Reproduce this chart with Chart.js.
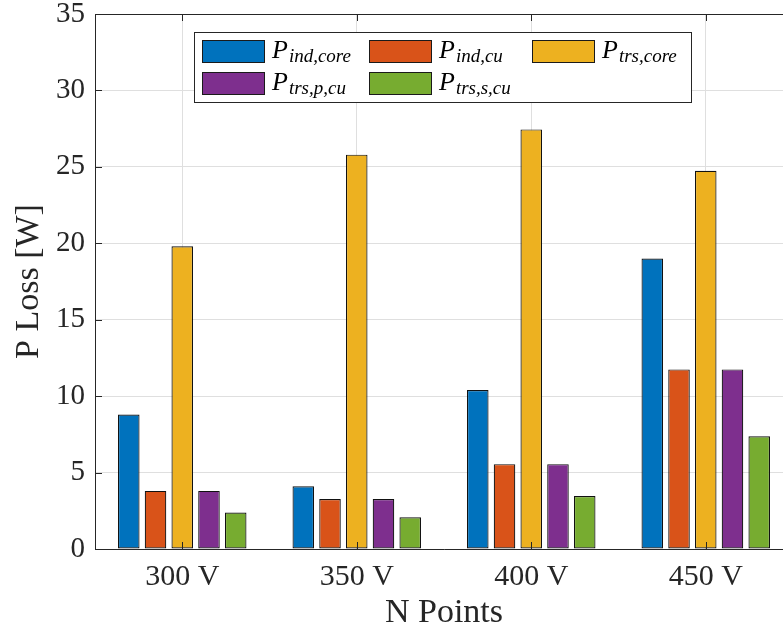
<!DOCTYPE html>
<html><head><meta charset="utf-8">
<script src="https://cdn.jsdelivr.net/npm/chart.js@4.4.0/dist/chart.umd.min.js"></script>
<style>
html,body{margin:0;padding:0;background:#fff;overflow:hidden;width:783px;height:635px}
#wrap{width:800px;height:635px;position:relative}
</style></head>
<body><div id="wrap"><canvas id="c" width="800" height="635"></canvas></div>
<script>
// ---- data ----
const categories = ['300 V', '350 V', '400 V', '450 V'];
const legendMain = 'P';
const seriesSubs = ['ind,core', 'ind,cu', 'trs,core', 'trs,p,cu', 'trs,s,cu'];
const pIndCore = [8.8, 4.1, 10.4, 19.0];
const pIndCu   = [3.8, 3.27, 5.55, 11.75];
const pTrsCore = [19.8, 25.8, 27.45, 24.75];
const pTrsPCu  = [3.8, 3.27, 5.55, 11.75];
const pTrsSCu  = [2.38, 2.07, 3.47, 7.38];
const yTickValues = [0, 5, 10, 15, 20, 25, 30, 35];
const xTitle = 'N Points';
const yTitle = 'P Loss [W]';

const colors = ['#0072BD', '#D95319', '#EDB120', '#7E2F8E', '#77AC30'];
const seriesValues = [pIndCore, pIndCu, pTrsCore, pTrsPCu, pTrsSCu];
const FONT = "'Liberation Serif', 'Times New Roman', serif";
const AXIS = '#262626';

const datasets = seriesValues.map((vals, i) => ({
  label: legendMain + '_' + seriesSubs[i],
  data: vals,
  backgroundColor: colors[i],
  borderColor: '#111',
  borderWidth: 1.2,
  borderSkipped: false,
  categoryPercentage: 0.766,
  barPercentage: 0.806
}));

const axesPlugin = {
  id: 'axesOnTop',
  afterDatasetsDraw(chart) {
    const ctx = chart.ctx, a = chart.chartArea;
    const xs = chart.scales.x, ys = chart.scales.y;
    ctx.save();
    ctx.strokeStyle = AXIS;
    ctx.lineWidth = 1;
    ctx.beginPath();
    ctx.moveTo(a.left + 0.5, a.top + 0.5); ctx.lineTo(a.left + 0.5, a.bottom + 0.5);
    ctx.lineTo(a.right, a.bottom + 0.5);
    ctx.moveTo(a.left, a.top + 0.5); ctx.lineTo(a.right, a.top + 0.5);
    ctx.lineTo(a.right - 0.5, a.bottom);
    xs.ticks.forEach((t, i) => {
      const x = Math.round(xs.getPixelForTick(i)) + 0.5;
      ctx.moveTo(x, a.bottom); ctx.lineTo(x, a.bottom - 7);
      ctx.moveTo(x, a.top); ctx.lineTo(x, a.top + 7);
    });
    ys.ticks.forEach((t, i) => {
      const y = Math.round(ys.getPixelForTick(i)) + 0.5;
      ctx.moveTo(a.left, y); ctx.lineTo(a.left + 7, y);
      ctx.moveTo(a.right, y); ctx.lineTo(a.right - 7, y);
    });
    ctx.stroke();
    ctx.restore();
  }
};

const legendPlugin = {
  id: 'mathLegend',
  afterDraw(chart) {
    const ctx = chart.ctx;
    const box = {x: 194.5, y: 32.5, w: 497, h: 70};
    const colX = [202, 369, 532];
    const rowY = [40, 72];
    ctx.save();
    ctx.fillStyle = '#fff';
    ctx.fillRect(box.x, box.y, box.w, box.h);
    ctx.strokeStyle = AXIS;
    ctx.lineWidth = 1;
    ctx.strokeRect(box.x, box.y, box.w, box.h);
    chart.data.datasets.forEach((ds, i) => {
      const cx = colX[i % 3], cy = rowY[Math.floor(i / 3)];
      ctx.fillStyle = ds.backgroundColor;
      ctx.fillRect(cx, cy, 63, 23);
      ctx.strokeStyle = '#1a1a1a';
      ctx.strokeRect(cx + 0.5, cy + 0.5, 62, 22);
      ctx.fillStyle = '#000';
      ctx.textBaseline = 'alphabetic';
      ctx.font = 'italic 26px ' + FONT;
      const tx = cx + 70, base = cy + 18;
      ctx.fillText(legendMain, tx, base);
      const pw = ctx.measureText(legendMain).width;
      ctx.font = 'italic 19px ' + FONT;
      ctx.fillText(seriesSubs[i], tx + pw + 1, base + 4);
    });
    ctx.restore();
  }
};

new Chart(document.getElementById('c'), {
  type: 'bar',
  data: { labels: categories, datasets },
  plugins: [axesPlugin, legendPlugin],
  options: {
    responsive: false,
    animation: false,
    layout: { padding: { top: 14, right: 7, left: 0, bottom: 0 } },
    plugins: { legend: { display: false }, tooltip: { enabled: false } },
    scales: {
      x: {
        offset: true,
        grid: { offset: false, color: '#dfdfdf', drawTicks: false, lineWidth: 1 },
        border: { display: false },
        ticks: { color: AXIS, font: { family: FONT, size: 30 }, padding: 10 },
        title: { display: true, text: xTitle, color: AXIS, font: { family: FONT, size: 34 }, padding: { top: 0, bottom: 2 } },
        afterFit(s) { s.height = 86; s.paddingLeft = 0; s.paddingRight = 0; }
      },
      y: {
        min: 0, max: 35,
        afterBuildTicks(s) { s.ticks = yTickValues.map(v => ({ value: v })); },
        grid: { color: '#dfdfdf', drawTicks: false, lineWidth: 1 },
        border: { display: false },
        ticks: { color: AXIS, font: { family: FONT, size: 29 }, padding: 10 },
        title: { display: true, text: yTitle, color: AXIS, font: { family: FONT, size: 34 }, padding: { top: 9, bottom: 0 } },
        afterFit(s) { s.width = 95; s.paddingTop = 0; s.paddingBottom = 0; }
      }
    }
  }
});
</script>
</body></html>
